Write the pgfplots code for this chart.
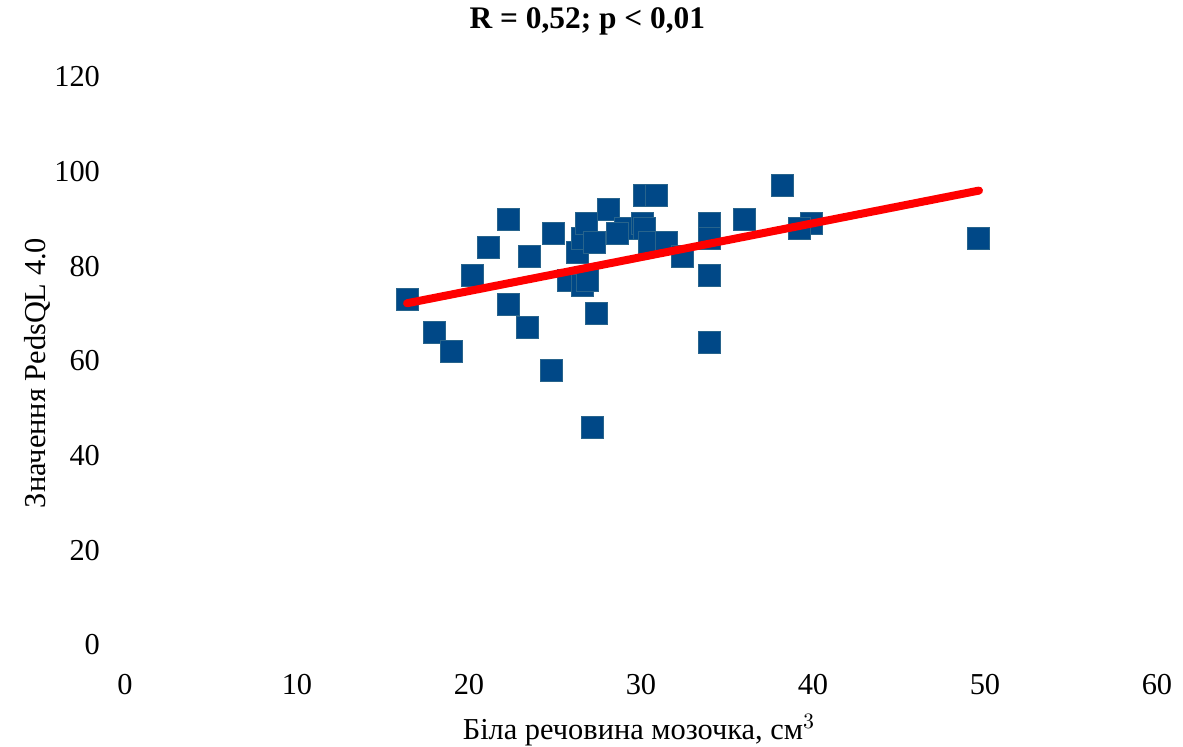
\documentclass[border=0pt]{standalone}
\usepackage{pgfplots}
\pgfplotsset{compat=1.18}
\usepackage{fontspec}
\setmainfont{Liberation Serif}
\definecolor{mk}{RGB}{0,72,135}
\definecolor{mkb}{RGB}{40,100,140}
\begin{document}
\begin{tikzpicture}
\useasboundingbox (-62.5pt,-51pt) rectangle (529pt,322.5pt);
\begin{axis}[
  scale only axis, width=516pt, height=284pt,
  xmin=0, xmax=60, ymin=0, ymax=120,
  xtick={0,10,...,60}, ytick={0,20,...,120},
  axis line style={draw=none}, major tick length=0pt,
  font=\fontsize{15.2}{18}\selectfont,
  /pgf/number format/assume math mode=true,
  yticklabel style={xshift=-9pt},
  xticklabel style={yshift=-11pt},
  xlabel={Біла речовина мозочка, см$^{3}$},
  ylabel={Значення PedsQL 4.0},
  xlabel style={at={(axis description cs:0.498,-0.1496)}, anchor=center},
  ylabel style={at={(axis description cs:-0.085,0.479)}, anchor=center, rotate=0},
  title={\fontsize{15.7}{18}\selectfont\bfseries R = 0,52; p < 0,01},
  title style={at={(axis description cs:0.448,1.077)}, anchor=center},
  clip mode=individual,
]
\addplot[only marks, mark=square*, mark size=5.5pt, mark options={fill=mk, draw=mkb, line width=0.4pt}] coordinates {
(16.4,73) (18.0,66) (19.0,62) (20.2,78) (21.1,84) (22.3,90) (22.3,72)
(23.4,67) (23.5,82) (24.8,58) (24.9,87) (25.8,77) (26.6,76) (26.9,77)
(26.3,83) (26.6,86) (26.8,89) (27.3,85) (27.4,70) (27.2,46) (28.1,92)
(29.1,88) (28.6,87) (30.1,89) (30.2,88) (30.2,95) (30.9,95) (30.5,85)
(31.5,85) (32.4,82) (34.0,89) (34.0,86) (34.0,78) (34.0,64) (36.0,90)
(38.2,97) (39.9,89) (39.2,88) (49.6,86)
};
\addplot[red, line width=4pt, line cap=round] coordinates {(16.4,72.2) (49.65,96.0)};
\end{axis}
\end{tikzpicture}
\end{document}
